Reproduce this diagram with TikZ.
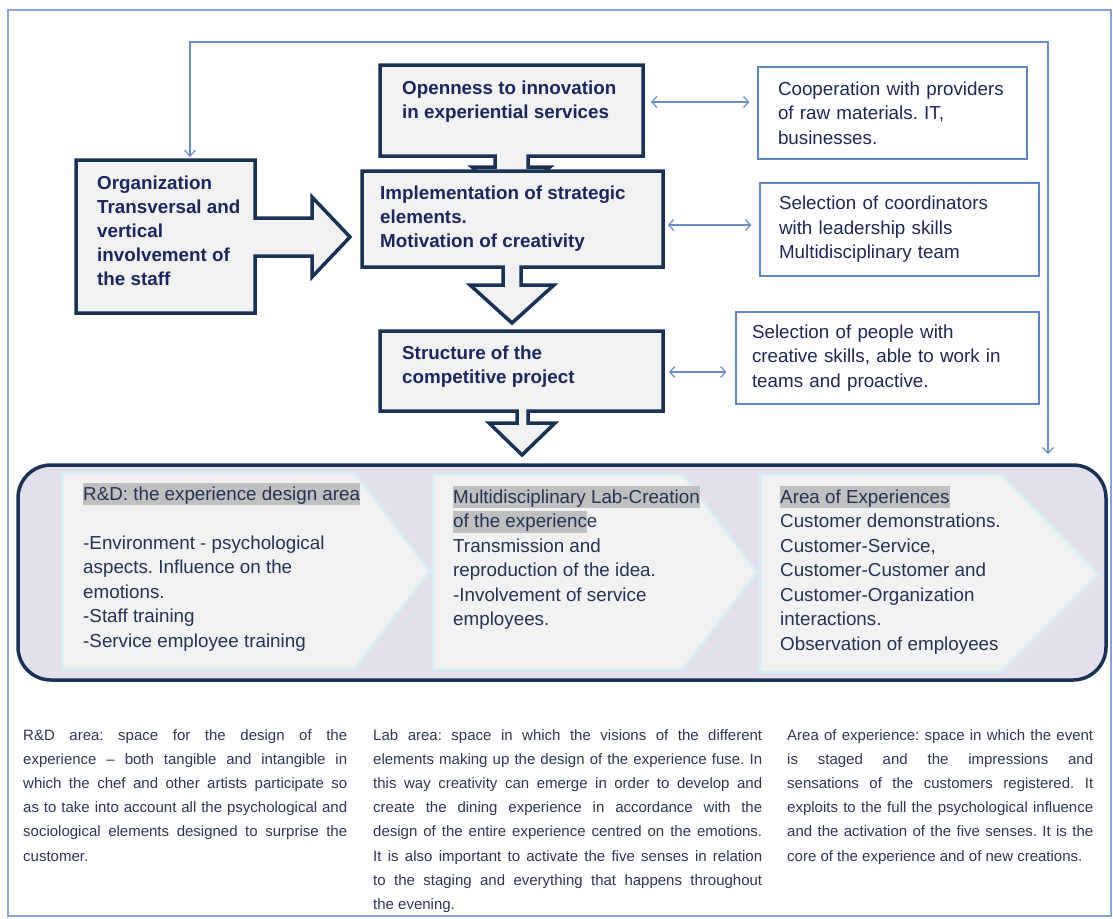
\documentclass[tikz,border=0pt]{standalone}
\usepackage{fontspec}
\setmainfont{Liberation Sans}
\usetikzlibrary{arrows.meta}
\frenchspacing
\definecolor{framecol}{RGB}{135,165,212}
\definecolor{fbline}{RGB}{105,142,200}
\definecolor{navy}{RGB}{25,50,85}
\definecolor{boxfill}{RGB}{242,242,242}
\definecolor{boldtext}{RGB}{28,38,95}
\definecolor{rboxline}{RGB}{95,135,195}
\definecolor{rtext}{RGB}{30,40,85}
\definecolor{lavender}{RGB}{228,223,236}
\definecolor{chevline}{RGB}{216,237,244}
\definecolor{chevtext}{RGB}{35,50,85}
\definecolor{hlgray}{RGB}{192,192,192}
\definecolor{smalltext}{RGB}{45,55,85}
\newcommand\hlite[1]{{\setlength{\fboxsep}{0pt}\colorbox{hlgray}{\rule[-5pt]{0pt}{22pt}#1}}}
\newcommand\noteset{\tolerance=10000\relax\hbadness=10000\relax\hyphenpenalty=10000\relax}
\begin{document}
\begin{tikzpicture}[x=1pt,y=-1pt,
  bigarrow/.style={draw=navy, line width=3.5pt, fill=boxfill, line join=miter},
  boldlbl/.style={anchor=north west, inner sep=0pt, align=left, text=boldtext,
    font=\fontsize{18.8}{24}\selectfont\bfseries},
  rbox/.style={draw=rboxline, line width=1.2pt, fill=white, align=left, text=rtext,
    inner sep=0pt, font=\fontsize{18.8}{24.5}\selectfont},
  link/.style={draw=fbline, line width=1.2pt,
    {Straight Barb[length=5pt,width=11pt]}-{Straight Barb[length=5pt,width=11pt]}},
  fbl/.style={draw=fbline, line width=1.2pt,
    {Straight Barb[length=6pt,width=11pt]}-{Straight Barb[length=6pt,width=11pt]}},
  chev/.style={draw=chevline, line width=3pt, fill=boxfill, line join=miter},
  chevlbl/.style={anchor=north west, inner sep=0pt, align=left, text=chevtext,
    font=\fontsize{18.8}{24.5}\selectfont},
  note/.style={anchor=north west, inner sep=0pt, align=justify, text=smalltext,
    font=\fontsize{15}{24.2}\selectfont}
]
\useasboundingbox (0,0) rectangle (1113,918);
\fill[white] (0,0) rectangle (1113,918);
% outer frame
\draw[framecol, line width=1.5pt] (8,10) rectangle (1111,916);

% big rounded box
\node[draw=navy, line width=3.5pt, rounded corners=33pt, fill=lavender,
  minimum width=1088pt, minimum height=215pt, inner sep=0pt] (bigbox) at (562,572.5) {};

% feedback connector
\coordinate (fbA) at (190,157);
\coordinate (fbC) at (1048,42);
\draw[fbl, shorten >=9pt] (fbA) |- (fbC) -- (fbC |- bigbox.north);

% arrow shapes
\draw[bigarrow] (380,65) -- (643,65) -- (643,156) -- (528,156) -- (528,167) -- (550,167)
  -- (511,200) -- (472,167) -- (495,167) -- (495,156) -- (380,156) -- cycle;
\draw[bigarrow] (362,171) -- (663,171) -- (663,267) -- (521,267) -- (521,285) -- (554,285)
  -- (512,323) -- (470,285) -- (503,285) -- (503,267) -- (362,267) -- cycle;
\draw[bigarrow] (76,160) -- (255,160) -- (255,218) -- (312,218) -- (312,197) -- (350,237)
  -- (312,277) -- (312,256) -- (255,256) -- (255,313) -- (76,313) -- cycle;
\draw[bigarrow] (380,331) -- (663,331) -- (663,411) -- (528,411) -- (528,423) -- (555,423)
  -- (522,455) -- (489,423) -- (517,423) -- (517,411) -- (380,411) -- cycle;

% bold labels
\node[boldlbl] (open) at (402,81) {Openness to innovation\\in experiential services};
\node[boldlbl] (org) at (97,176) {Organization\\Transversal and\\vertical\\involvement of\\the staff};
\node[boldlbl] (impl) at (380,186) {Implementation of strategic\\elements.\\Motivation of creativity};
\node[boldlbl] (struct) at (402,346) {Structure of the\\competitive project};

% right boxes
\node[rbox, minimum width=269pt, minimum height=92pt, text width=229pt] (coop) at (892.5,113)
  {Cooperation with providers\\of raw materials. IT,\\businesses.};
\node[rbox, minimum width=279pt, minimum height=93pt, text width=241pt] (coord) at (899.5,229.5)
  {Selection of coordinators\\with leadership skills\\Multidisciplinary team};
\node[rbox, minimum width=303pt, minimum height=92pt, text width=271pt] (people) at (887.5,358)
  {Selection of people with\\creative skills, able to work in\\teams and proactive.};

% links
\coordinate (l1) at (651,102);
\coordinate (l2) at (668,225);
\coordinate (l3) at (669,372);
\draw[link, shorten >=8pt] (l1) -- (l1 -| coop.west);
\draw[link, shorten >=8pt] (l2) -- (l2 -| coord.west);
\draw[link, shorten >=9pt] (l3) -- (l3 -| people.west);

% chevrons
\draw[chev] (62,473) -- (355,473) -- (430,571) -- (355,669) -- (62,669) -- cycle;
\draw[chev] (433,474) -- (683,474) -- (757,572) -- (683,670) -- (433,670) -- cycle;
\draw[chev] (760,474) -- (1001,474) -- (1099,574) -- (1001,672) -- (760,672) -- cycle;

\node[chevlbl] (rd) at (83,483) {\hlite{R\&D: the experience design area}\\[24.5pt]
  -Environment - psychological\\aspects. Influence on the\\emotions.\\-Staff training\\-Service employee training};
\node[chevlbl] (lab) at (453,486) {\hlite{Multidisciplinary Lab-Creation}\\\hlite{of the experienc}e\\
  Transmission and\\reproduction of the idea.\\-Involvement of service\\employees.};
\node[chevlbl] (exp) at (780,486) {\hlite{Area of Experiences}\\Customer demonstrations.\\Customer-Service,\\
  Customer-Customer and\\Customer-Organization\\interactions.\\Observation of employees};

% notes
\node[note, text width=324pt] (n1) at (23,729) {\noteset R\&D area: space for the design of the\linebreak
experience -- both tangible and intangible in\linebreak
which the chef and other artists participate so\linebreak
as to take into account all the psychological and\linebreak
sociological elements designed to surprise the\linebreak
customer.};
\node[note, text width=389pt] (n2) at (373,729) {\noteset Lab area: space in which the visions of the different\linebreak
elements making up the design of the experience fuse. In\linebreak
this way creativity can emerge in order to develop and\linebreak
create the dining experience in accordance with the\linebreak
design of the entire experience centred on the emotions.\linebreak
It is also important to activate the five senses in relation\linebreak
to the staging and everything that happens throughout\linebreak
the evening.};
\node[note, text width=306pt] (n3) at (787,729) {\noteset Area of experience: space in which the event\linebreak
is staged and the impressions and\linebreak
sensations of the customers registered. It\linebreak
exploits to the full the psychological influence\linebreak
and the activation of the five senses. It is the\linebreak
core of the experience and of new creations.};
\end{tikzpicture}
\end{document}
